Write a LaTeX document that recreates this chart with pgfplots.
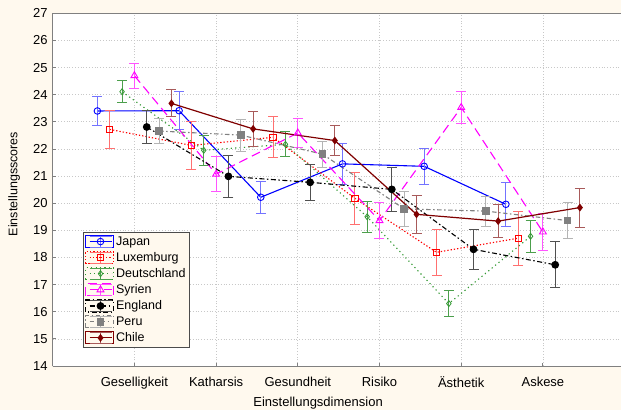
\documentclass[border=0pt]{standalone}
\usepackage{fontspec}
\setmainfont{Liberation Sans}
\usepackage{pgfplots}
\pgfplotsset{compat=1.18}
\definecolor{bgc}{HTML}{FFF9EE}
\definecolor{axc}{HTML}{808080}
\definecolor{gridc}{HTML}{C8C8C8}
\definecolor{cjap}{HTML}{0000FF}
\definecolor{cjape}{HTML}{7373FF}
\definecolor{clux}{HTML}{FF0000}
\definecolor{cluxe}{HTML}{FF7070}
\definecolor{cde}{HTML}{339933}
\definecolor{cdee}{HTML}{4C9F4C}
\definecolor{csyr}{HTML}{FF00FF}
\definecolor{csyre}{HTML}{FF55FF}
\definecolor{ceng}{HTML}{000000}
\definecolor{cenge}{HTML}{505050}
\definecolor{cper}{HTML}{808080}
\definecolor{cpere}{HTML}{B4B4B4}
\definecolor{cchi}{HTML}{800000}
\definecolor{cchie}{HTML}{A85A5A}
\pgfplotsset{errleg/.style={legend image code/.code={%
  \path (0pt,-6pt) rectangle (28pt,6pt);
  \draw[#1, solid, line width=0.9pt] (4pt,5.5pt)--(26pt,5.5pt) (4pt,-5.5pt)--(26pt,-5.5pt) (15pt,-5.5pt)--(15pt,5.5pt);
  \draw[mark repeat=2,mark phase=2] plot coordinates {(4pt,0pt) (15pt,0pt) (26pt,0pt)};}}}
\begin{document}
\begin{tikzpicture}
\fill[bgc] (-52.7pt,-44pt) rectangle (568.3pt,366pt);
\begin{axis}[
  scale only axis, width=568.3pt, height=352.7pt,
  xmin=0, xmax=6.956, ymin=14, ymax=27,
  axis background/.style={fill=white},
  axis x line*=bottom, axis y line*=left,
  axis line style={axc, line width=0.9pt},
  xtick={1,2,3,4,5,6},
  xticklabels={Geselligkeit,Katharsis,Gesundheit,Risiko,Ästhetik,Askese},
  ytick={14,15,...,27},
  tick align=inside, major tick length=3pt,
  tick style={axc, line width=0.8pt},
  grid=major,
  major grid style={gridc, line width=0.7pt, dash pattern=on 1pt off 1.8pt},
  /pgf/number format/assume math mode=true,
  tick label style={font=\fontsize{13}{15}\selectfont, black},
  xticklabel style={yshift=-7.5pt},
  yticklabel style={xshift=-1.5pt},
  xlabel={Einstellungsdimension}, ylabel={Einstellungsscores},
  every axis x label/.style={at={(axis description cs:0.467,-0.104)}, anchor=center, font=\fontsize{13}{15}\selectfont},
  every axis y label/.style={at={(axis description cs:-0.068,0.516)}, rotate=90, anchor=center, font=\fontsize{12.5}{15}\selectfont},
  legend style={at={(rel axis cs:0.0528,0.379)}, anchor=north west,
    fill=bgc, draw=black!70, font=\fontsize{12.5}{15}\selectfont,
    row sep=1.6pt, inner sep=2pt},
  legend cell align=left,
  error bars/y dir=both, error bars/y explicit,
]
% Japan
\addplot[cjap, line width=1.1pt, mark=o, mark size=3.3pt, mark options={solid, fill=white, line width=0.9pt}, errleg=cjape,
  error bars/.cd, error bar style={cjape, line width=0.9pt, solid}, error mark options={cjape, line width=0.9pt, mark size=5pt, rotate=90, solid}]
coordinates {(0.547,23.40)+-(0,0.54) (1.547,23.41)+-(0,0.70) (2.547,20.22)+-(0,0.60) (3.547,21.45)+-(0,0.77) (4.547,21.36)+-(0,0.66) (5.547,19.96)+-(0,0.80)};
\addlegendentry{Japan}
% Luxemburg
\addplot[clux, line width=1.1pt, dash pattern=on 1.3pt off 2pt, mark=square, mark size=3.2pt, mark options={solid, fill=white, line width=0.9pt}, errleg=cluxe,
  error bars/.cd, error bar style={cluxe, line width=0.9pt, solid}, error mark options={cluxe, line width=0.9pt, mark size=5pt, rotate=90, solid}]
coordinates {(0.698,22.72)+-(0,0.70) (1.698,22.13)+-(0,0.90) (2.698,22.43)+-(0,0.76) (3.698,20.18)+-(0,0.96) (4.698,18.19)+-(0,0.86) (5.698,18.71)+-(0,1.00)};
\addlegendentry{Luxemburg}
% Deutschland
\addplot[cde, line width=1.1pt, dash pattern=on 1.2pt off 3.2pt, mark=diamond, mark size=3pt, mark options={solid, fill=white, line width=0.8pt}, errleg=cdee,
  error bars/.cd, error bar style={cdee, line width=0.9pt, solid}, error mark options={cdee, line width=0.9pt, mark size=5pt, rotate=90, solid}]
coordinates {(0.849,24.11)+-(0,0.40) (1.849,21.95)+-(0,0.54) (2.849,22.17)+-(0,0.46) (3.849,19.50)+-(0,0.57) (4.849,16.30)+-(0,0.49) (5.849,18.78)+-(0,0.60)};
\addlegendentry{Deutschland}
% Syrien
\addplot[csyr, line width=1.1pt, dash pattern=on 9pt off 5pt, mark=triangle, mark size=4pt, mark options={solid, fill=white, line width=0.9pt}, errleg=csyre,
  error bars/.cd, error bar style={csyre, line width=0.9pt, solid}, error mark options={csyre, line width=0.9pt, mark size=5pt, rotate=90, solid}]
coordinates {(1,24.70)+-(0,0.46) (2,21.07)+-(0,0.64) (3,22.59)+-(0,0.53) (4,19.36)+-(0,0.67) (5,23.53)+-(0,0.60) (6,18.94)+-(0,0.67)};
\addlegendentry{Syrien}
% England
\addplot[ceng, line width=1.1pt, dash pattern=on 5pt off 2.5pt on 1.5pt off 2.5pt, mark=*, mark size=3.3pt, mark options={solid, fill=black}, errleg=cenge,
  error bars/.cd, error bar style={cenge, line width=0.9pt, solid}, error mark options={cenge, line width=0.9pt, mark size=5pt, rotate=90, solid}]
coordinates {(1.151,22.81)+-(0,0.62) (2.151,20.99)+-(0,0.77) (3.151,20.77)+-(0,0.65) (4.151,20.51)+-(0,0.82) (5.151,18.30)+-(0,0.73) (6.151,17.73)+-(0,0.85)};
\addlegendentry{England}
% Peru
\addplot[cper, line width=1.1pt, dash pattern=on 4.5pt off 2.5pt on 1.5pt off 2.5pt, mark=square*, mark size=3.2pt, mark options={solid, fill=cper}, errleg=cpere,
  error bars/.cd, error bar style={cpere, line width=0.9pt, solid}, error mark options={cpere, line width=0.9pt, mark size=5pt, rotate=90, solid}]
coordinates {(1.302,22.66)+-(0,0.45) (2.302,22.51)+-(0,0.59) (3.302,21.81)+-(0,0.48) (4.302,19.79)+-(0,0.63) (5.302,19.71)+-(0,0.55) (6.302,19.36)+-(0,0.65)};
\addlegendentry{Peru}
% Chile
\addplot[cchi, line width=1.2pt, mark=diamond*, mark size=3pt, mark options={solid, fill=cchi}, errleg=cchie,
  error bars/.cd, error bar style={cchie, line width=0.9pt, solid}, error mark options={cchie, line width=0.9pt, mark size=5pt, rotate=90, solid}]
coordinates {(1.453,23.68)+-(0,0.50) (2.453,22.74)+-(0,0.66) (3.453,22.31)+-(0,0.55) (4.453,19.59)+-(0,0.69) (5.453,19.34)+-(0,0.62) (6.453,19.84)+-(0,0.72)};
\addlegendentry{Chile}
\draw[axc, line width=0.9pt] (rel axis cs:0,1) -- (rel axis cs:1,1);
\end{axis}
\pgfresetboundingbox
\path[use as bounding box] (-52.7pt,-44pt) rectangle (568.3pt,366pt);
\end{tikzpicture}
\end{document}
